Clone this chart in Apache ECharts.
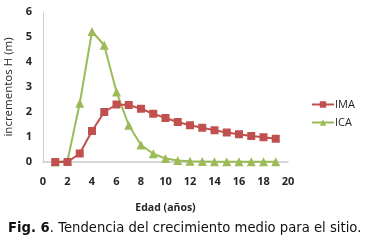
<!DOCTYPE html>
<html><head><meta charset="utf-8">
<script src="https://cdn.jsdelivr.net/npm/echarts@6/dist/echarts.min.js"></script>
<style>html,body{margin:0;padding:0;background:#fff}#c{width:369px;height:242px}</style>
</head><body><div id="c"></div>
<script>
const edad = [1,2,3,4,5,6,7,8,9,10,11,12,13,14,15,16,17,18,19];
const ima = [0,0,0.34,1.24,2.0,2.3,2.28,2.13,1.93,1.76,1.6,1.47,1.37,1.27,1.18,1.11,1.04,0.99,0.93];
const ica = [0,0.05,2.35,5.22,4.67,2.8,1.47,0.68,0.33,0.14,0.06,0.03,0.02,0.01,0.01,0.01,0.01,0.01,0.01];
const xName = 'Edad (años)';
const yName = 'incrementos H (m)';
const caption = '{b|Fig. 6}. Tendencia del crecimiento medio para el sitio.';

const chart = echarts.init(document.getElementById('c'), null, {renderer:'canvas'});
const lab = {fontFamily:'Open Sans', fontWeight:'bold', fontSize:11, color:'#262626'};
chart.setOption({
  animation:false,
  grid:{left:43, top:12, width:245, height:150, containLabel:false, outerBoundsMode:'none'},
  xAxis:{type:'value', min:0, max:20, interval:2,
    name:xName, nameLocation:'middle', nameGap:41,
    nameTextStyle:{fontFamily:'Open Sans', fontWeight:'bold', fontSize:10.5, color:'#262626'},
    axisLine:{lineStyle:{color:'#c8c8c8', width:1.5}}, axisTick:{show:false}, splitLine:{show:false},
    axisLabel:Object.assign({margin:14}, lab)},
  yAxis:{type:'value', min:0, max:6, interval:1,
    name:yName, nameLocation:'middle', nameGap:19, nameRotate:90,
    nameTextStyle:{fontFamily:'Open Sans', fontSize:11.5, color:'#262626'},
    axisLine:{show:true, lineStyle:{color:'#d0d0d0', width:1}}, axisTick:{show:false}, splitLine:{show:false},
    axisLabel:Object.assign({margin:11}, lab)},
  legend:{orient:'vertical', left:306, top:94, itemGap:7, itemWidth:22, itemHeight:8,
    textStyle:{fontFamily:'Open Sans', fontSize:11, color:'#262626', padding:[0,0,0,-4]},
    data:['IMA','ICA']},
  series:[
    {name:'IMA', type:'line', data:edad.map((x,i)=>[x,ima[i]]), symbol:'rect', symbolSize:8,
      lineStyle:{color:'#C0504D', width:2}, itemStyle:{color:'#C0504D'}, z:3},
    {name:'ICA', type:'line', data:edad.map((x,i)=>[x,ica[i]]), symbol:'triangle', symbolSize:9,
      lineStyle:{color:'#9BBB59', width:2}, itemStyle:{color:'#9BBB59'}, z:2}
  ],
  graphic:[{type:'text', left:8, top:222, style:{text:caption, fontFamily:'DejaVu Sans', fontSize:13.2, fill:'#111',
    rich:{b:{fontFamily:'DejaVu Sans', fontWeight:'bold', fontSize:13.2, fill:'#111'}}}}]
});
</script></body></html>
